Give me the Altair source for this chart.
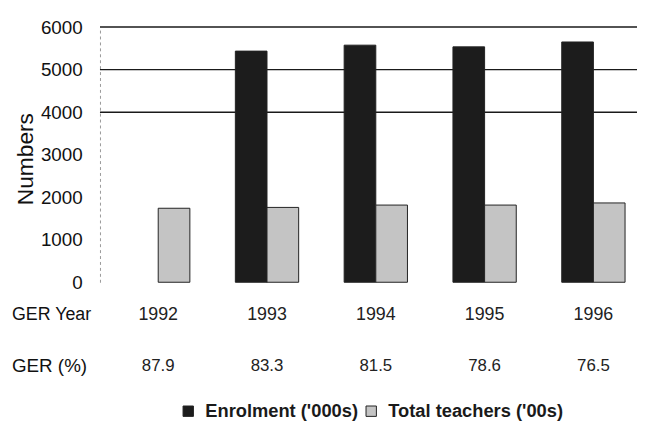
import altair as alt
import pandas as pd

years = ["1992", "1993", "1994", "1995", "1996"]
enrolment = [None, 5435, 5575, 5535, 5650]
teachers = [1740, 1760, 1815, 1815, 1865]
ger = ["87.9", "83.3", "81.5", "78.6", "76.5"]
gridlines = [4000, 5000, 6000]
y_ticks = [0, 1000, 2000, 3000, 4000, 5000, 6000]
series = ["Enrolment ('000s)", "Total teachers ('00s)"]
row_labels = ["GER Year", "GER (%)"]

FONT = "Liberation Sans"

rows = []
for i, yr in enumerate(years):
    if enrolment[i] is not None:
        rows.append({"year": yr, "series": series[0], "value": enrolment[i]})
    rows.append({"year": yr, "series": series[1], "value": teachers[i]})
bars_df = pd.DataFrame(rows)
year_df = pd.DataFrame({"year": years, "ger": ger})

xscale = alt.Scale(domain=years, paddingInner=0.418, paddingOuter=0.177, align=0.69)
yscale = alt.Scale(domain=[0, 6000], nice=False)

bars = alt.Chart(bars_df).mark_bar(stroke="#222222", strokeWidth=1).encode(
    x=alt.X("year:N", scale=xscale, axis=None),
    xOffset=alt.XOffset("series:N", scale=alt.Scale(domain=series, paddingInner=0, paddingOuter=0)),
    y=alt.Y(
        "value:Q",
        scale=yscale,
        axis=alt.Axis(
            values=y_ticks,
            format="d",
            title="Numbers",
            grid=False,
            ticks=False,
            tickSize=0,
            labelPadding=18,
            labelFontSize=19,
            labelFont=FONT,
            labelColor="#111111",
            titleFontSize=23,
            titleFont=FONT,
            titleFontWeight="normal",
            titleColor="#111111",
            titleAngle=270,
            titleAlign="center",
            titleBaseline="middle",
            titleX=-75,
            titleY=133,
            domainColor="#9a9a9a",
            domainDash=[3, 3],
            domainWidth=1,
        ),
    ),
    color=alt.Color(
        "series:N",
        scale=alt.Scale(domain=series, range=["#1c1c1c", "#c4c4c4"]),
        legend=alt.Legend(
            orient="none",
            legendX=80,
            legendY=379,
            direction="horizontal",
            title=None,
            symbolType="square",
            symbolSize=110,
            symbolStrokeColor="#222222",
            symbolStrokeWidth=1,
            labelFontSize=18.5,
            labelFontWeight="bold",
            labelFont=FONT,
            labelColor="#1a1a1a",
            labelOffset=8,
            columnPadding=4,
            labelLimit=400,
        ),
    ),
)

grid = alt.Chart(pd.DataFrame({"g": gridlines})).mark_rule(
    color="#1a1a1a", strokeWidth=1.5
).encode(y=alt.Y("g:Q", scale=yscale))

year_text = alt.Chart(year_df).mark_text(
    fontSize=18, font=FONT, baseline="middle", color="#222222"
).encode(
    x=alt.X("year:N", scale=xscale, axis=None),
    y=alt.value(291),
    text="year:N",
)

ger_text = alt.Chart(year_df).mark_text(
    fontSize=17, font=FONT, baseline="middle", color="#222222"
).encode(
    x=alt.X("year:N", scale=xscale, axis=None),
    y=alt.value(343),
    text="ger:N",
)

row1 = alt.Chart(pd.DataFrame({"label": [row_labels[0]]})).mark_text(
    fontSize=18, font=FONT, align="left", baseline="middle", color="#111111"
).encode(x=alt.value(-89), y=alt.value(291), text="label:N")

row2 = alt.Chart(pd.DataFrame({"label": [row_labels[1]]})).mark_text(
    fontSize=19, font=FONT, align="left", baseline="middle", color="#111111"
).encode(x=alt.value(-89), y=alt.value(343), text="label:N")

chart = alt.layer(grid, bars, year_text, ger_text, row1, row2).properties(
    width=543,
    height=258,
    autosize=alt.AutoSizeParams(type="none"),
    padding={"left": 93, "top": 17, "right": 0, "bottom": 140},
).configure_view(stroke=None)

chart.save("out.html", embed_options={"renderer": "svg", "actions": False})
